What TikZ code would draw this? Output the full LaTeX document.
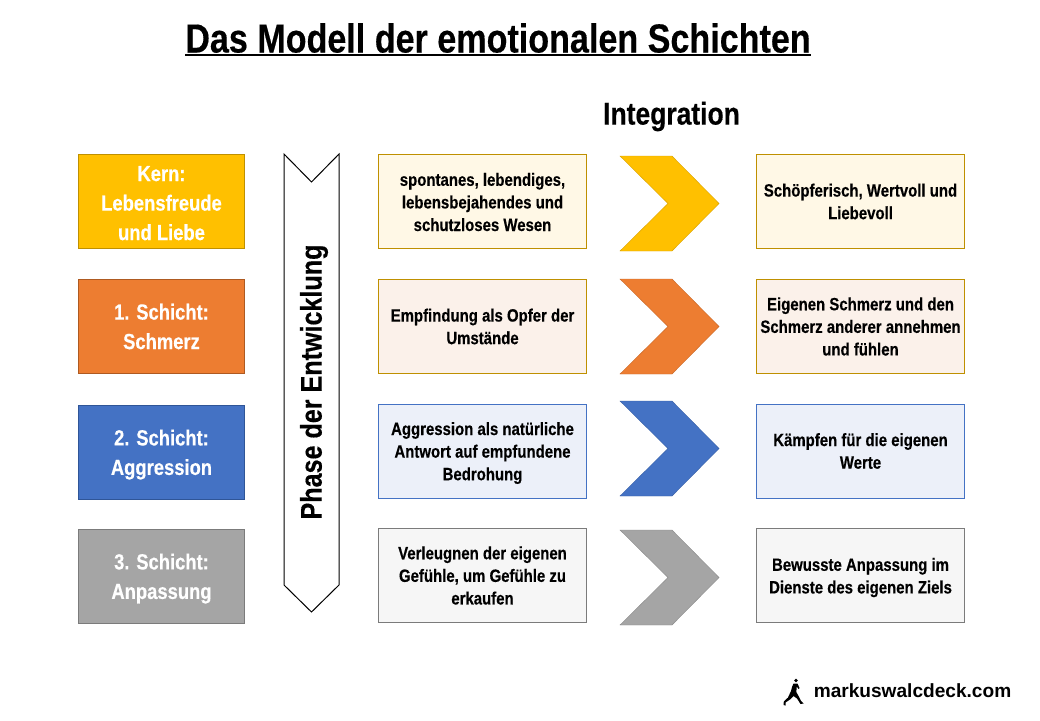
\documentclass[tikz,border=0pt]{standalone}
\usepackage{fontspec}
\setmainfont[FakeStretch=0.84,BoldFont={Liberation Sans Bold},BoldFeatures={FakeBold=0.35}]{Liberation Sans}
\newfontfamily\logofont{Liberation Sans Bold}
\definecolor{gold}{HTML}{FFC000}
\definecolor{goldline}{HTML}{BF9000}
\definecolor{goldpale}{HTML}{FFF8E6}
\definecolor{orng}{HTML}{ED7D31}
\definecolor{orngline}{HTML}{AE5A21}
\definecolor{orngpale}{HTML}{FBF1EA}
\definecolor{blu}{HTML}{4472C4}
\definecolor{bluline}{HTML}{2F5597}
\definecolor{blupale}{HTML}{ECF0F9}
\definecolor{gry}{HTML}{A5A5A5}
\definecolor{gryline}{HTML}{7B7B7B}
\definecolor{grypale}{HTML}{F6F6F6}
% Lowers a centred block of lines by about #1 inside its box
\newcommand\sink[1]{\rule{0pt}{\dimexpr .73em+2\dimexpr #1\relax\relax}}
\tikzset{
  x=1pt,y=-1pt,
  layer/.style={draw=#1line,fill=#1,text=white,font=\fontsize{21.9}{29.5}\selectfont\bfseries,
    minimum width=166pt,minimum height=94pt,inner sep=0pt,align=center,line width=.9pt},
  detail/.style={draw=#1,minimum width=208pt,minimum height=94pt,inner sep=0pt,align=center,
    text=black,font=\fontsize{17.8}{22.6}\selectfont\bfseries,line width=.9pt},
  pointer/.style={fill=#1,draw=#1!85!black,line width=.4pt},
  heading/.style={inner sep=0pt,text=black,font=\bfseries}
}
\begin{document}
\begin{tikzpicture}
\useasboundingbox (0,0) rectangle (1040,720);
\fill[white] (0,0) rectangle (1040,720);

% Title and column heading
\node[heading,font=\fontsize{40.6}{44}\selectfont\bfseries] (title) at (498,38) {Das Modell der emotionalen Schichten};
\draw[line width=2pt] (185,55) -- (811,55);
\node[heading,font=\fontsize{31.5}{36}\selectfont\bfseries] (integration) at (671.5,116.5) {Integration};

% Layer boxes
\node[layer=gold] (kern) at (161.5,201.5) {\sink{1.2pt}Kern:\\Lebensfreude\\und Liebe};
\node[layer=orng] (schmerz) at (161.5,326.5) {1. Schicht:\\Schmerz};
\node[layer=blu]  (aggression) at (161.5,452.5) {\sink{2pt}2. Schicht:\\Aggression};
\node[layer=gry]  (anpassung) at (161.5,576.5) {\sink{2pt}3. Schicht:\\Anpassung};

% Development arrow
\draw[fill=white,line width=1pt,line join=miter] (284,154) -- (311.5,182) -- (339,154) -- (339,585) -- (311.5,612) -- (284,585) -- cycle;
\node[heading,rotate=90,font=\fontsize{29.9}{36}\selectfont\bfseries] (phase) at (314,382) {Phase der Entwicklung};

% Descriptions of each layer
\node[detail=goldline,fill=goldpale] (d1) at (482.5,201.5) {\sink{.5pt}spontanes, lebendiges,\\lebensbejahendes und\\schutzloses Wesen};
\node[detail=goldline,fill=orngpale] (d2) at (482.5,326.5) {Empfindung als Opfer der\\Umstände};
\node[detail=blu,fill=blupale]       (d3) at (482.5,451) {\sink{2pt}Aggression als natürliche\\Antwort auf empfundene\\Bedrohung};
\node[detail=gryline,fill=grypale]   (d4) at (482.5,575.5) {Verleugnen der eigenen\\Gefühle, um Gefühle zu\\erkaufen};

% Chevrons
\foreach \top/\col in {156/gold,279/orng,401/blu,530/gry}{
  \draw[pointer=\col] (620,\top+95) -- (668,\top+47.5) -- (620,\top) -- (672,\top) -- (719,\top+47.5) -- (672,\top+95) -- cycle;
}

% Integrated qualities
\node[detail=goldline,fill=goldpale] (i1) at (860.5,201.5) {Schöpferisch, Wertvoll und\\Liebevoll};
\node[detail=goldline,fill=orngpale] (i2) at (860.5,326.5) {Eigenen Schmerz und den\\Schmerz anderer annehmen\\und fühlen};
\node[detail=blu,fill=blupale]       (i3) at (860.5,451) {Kämpfen für die eigenen\\Werte};
\node[detail=gryline,fill=grypale]   (i4) at (860.5,575.5) {\sink{2pt}Bewusste Anpassung im\\Dienste des eigenen Ziels};

% Runner and web address
\fill[black] (796,680.5) circle (1.9);
\fill[black] (793.5,683.5) -- (797.5,683.5) -- (799.5,688) -- (798.5,689) -- (796.8,686.5) -- (796.3,692) -- (798.5,696) -- (801,701) -- (803.5,703.5) -- (800.5,704) -- (797,698.5) -- (793.5,696) -- (790,699.5) -- (785.5,702.5) -- (785.5,705.5) -- (783.5,705) -- (783.8,701.5) -- (788,697.5) -- (791,691) -- (792,687) -- cycle;
\node[inner sep=0pt,text=black,font=\logofont\fontsize{19.1}{24}\selectfont] (site) at (912.5,690.5) {markuswalcdeck.com};
\end{tikzpicture}
\end{document}
